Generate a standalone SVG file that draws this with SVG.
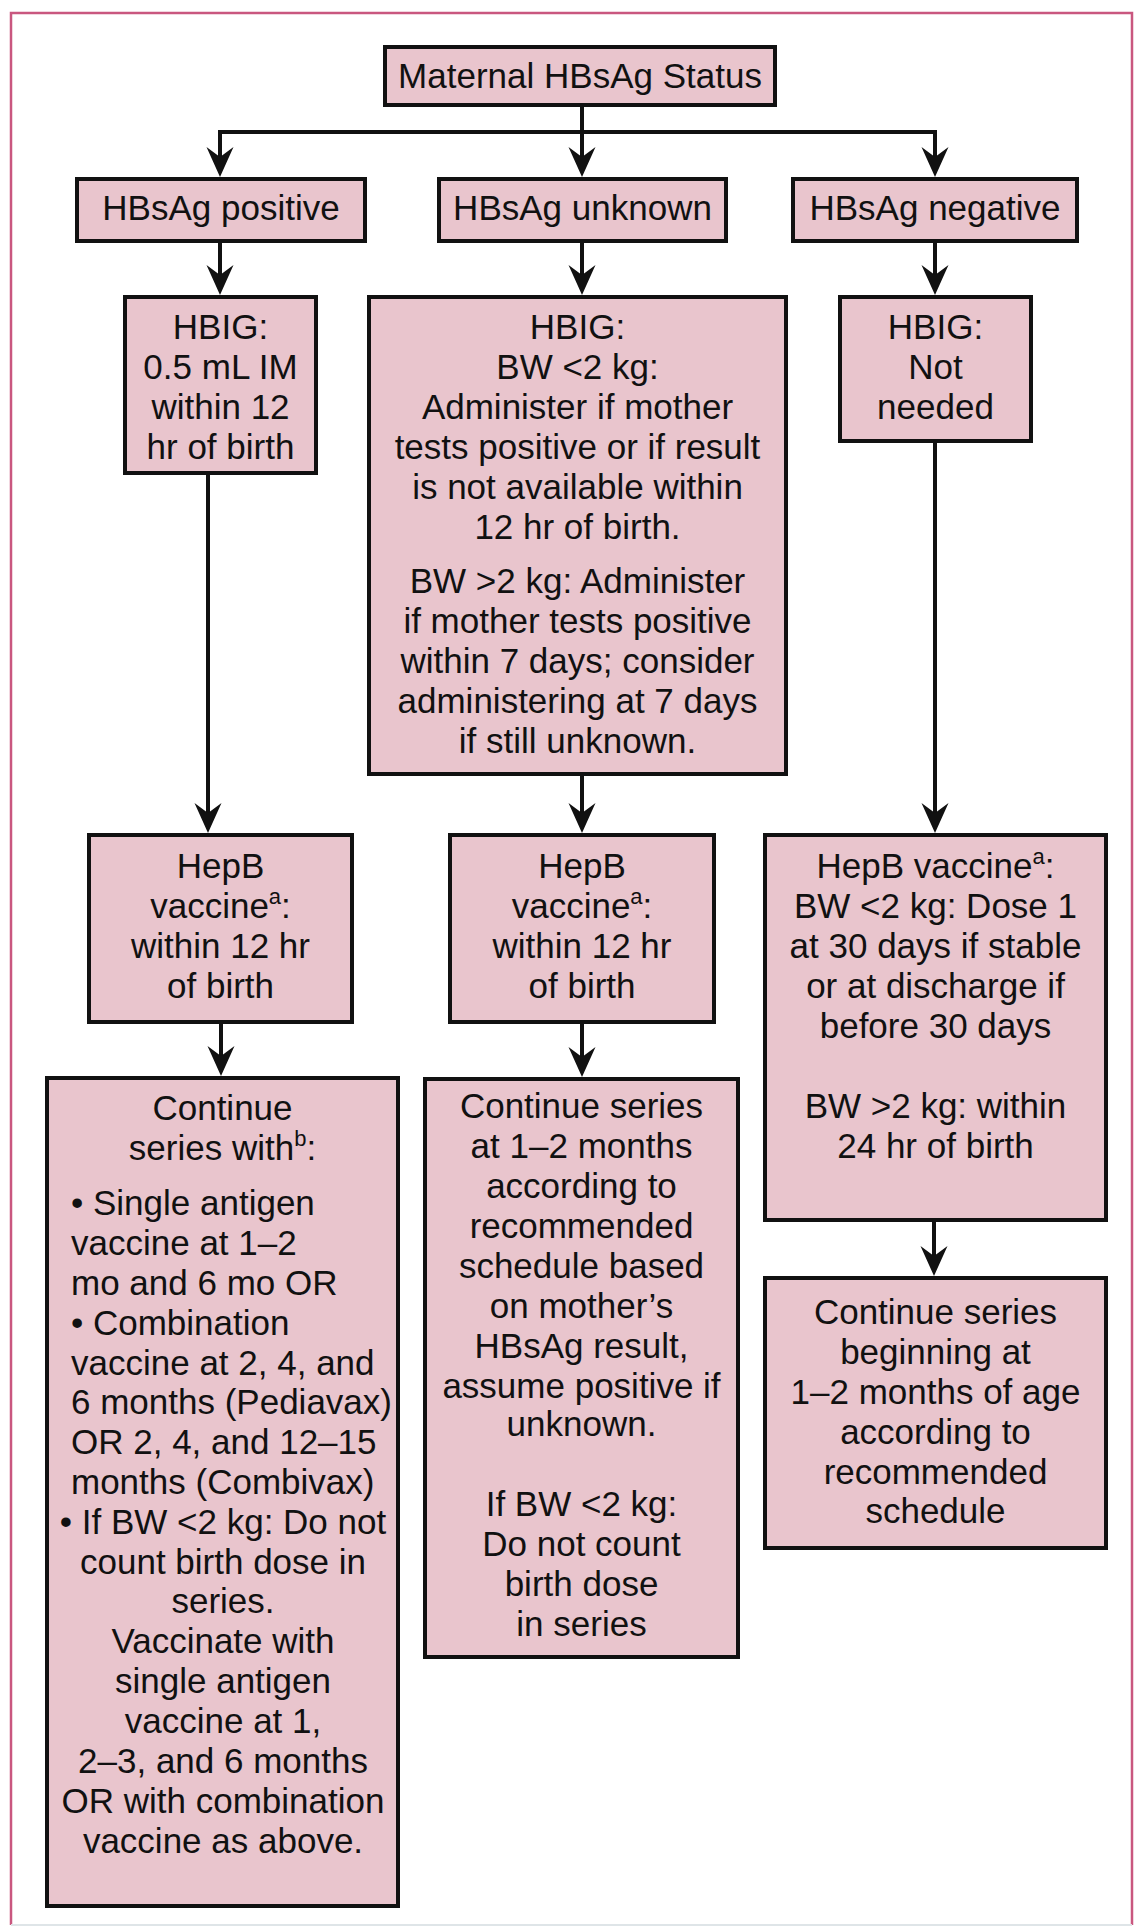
<svg xmlns="http://www.w3.org/2000/svg" width="1135" height="1931" viewBox="0 0 1135 1931">
  <defs>
    <style>
      .box { fill: #e9c5cd; stroke: #111; stroke-width: 4; }
      .t { font-family: "Liberation Sans", Arial, Helvetica, sans-serif; font-size: 35px; fill: #111; text-anchor: middle; }
      .l { text-anchor: start; }
      .sup { font-size: 22px; }
      .c { fill: none; stroke: #111; stroke-width: 4; stroke-linejoin: miter; }
    </style>
    <marker id="arrow" markerUnits="userSpaceOnUse" viewBox="-12 -15 34 30" markerWidth="34" markerHeight="30" refX="0" refY="0" orient="auto">
      <path d="M20,0 L-10,-13.5 L0,0 L-10,13.5 Z" fill="#111"/>
    </marker>
  </defs>

  <rect width="1135" height="1931" fill="#fff"/>

  <!-- outer frame -->
  <path d="M11,1925 V13 H1132 V1925" fill="none" stroke="#c9577f" stroke-width="2.5"/>
  <line x1="11" y1="1925" x2="1132" y2="1925" stroke="#dfe5e8" stroke-width="2"/>

  <!-- connectors -->
  <g id="connectors">
    <path class="c" d="M582,107 V132 H220 V157" marker-end="url(#arrow)"/>
    <path class="c" d="M582,107 V157" marker-end="url(#arrow)"/>
    <path class="c" d="M582,132 H935 V157" marker-end="url(#arrow)"/>
    <path class="c" d="M220,243 V275" marker-end="url(#arrow)"/>
    <path class="c" d="M582,243 V275" marker-end="url(#arrow)"/>
    <path class="c" d="M935,243 V275" marker-end="url(#arrow)"/>
    <path class="c" d="M208,475 V813" marker-end="url(#arrow)"/>
    <path class="c" d="M582,776 V813" marker-end="url(#arrow)"/>
    <path class="c" d="M935,443 V813" marker-end="url(#arrow)"/>
    <path class="c" d="M221,1024 V1056" marker-end="url(#arrow)"/>
    <path class="c" d="M582,1024 V1057" marker-end="url(#arrow)"/>
    <path class="c" d="M934,1222 V1256" marker-end="url(#arrow)"/>
  </g>

  <!-- top -->
  <g id="maternal-status">
    <rect class="box" x="385" y="47" width="390" height="58"/>
    <text class="t" x="580" y="88">Maternal HBsAg Status</text>
  </g>

  <!-- status row -->
  <g id="hbsag-positive">
    <rect class="box" x="77" y="179" width="288" height="62"/>
    <text class="t" x="221" y="220">HBsAg positive</text>
  </g>
  <g id="hbsag-unknown">
    <rect class="box" x="439" y="179" width="287" height="62"/>
    <text class="t" x="582.5" y="220">HBsAg unknown</text>
  </g>
  <g id="hbsag-negative">
    <rect class="box" x="793" y="179" width="284" height="62"/>
    <text class="t" x="935" y="220">HBsAg negative</text>
  </g>

  <!-- HBIG row -->
  <g id="hbig-positive">
    <rect class="box" x="125" y="297" width="191" height="176"/>
    <text class="t" x="220.5" y="339">HBIG:</text>
    <text class="t" x="220.5" y="379">0.5 mL IM</text>
    <text class="t" x="220.5" y="419">within 12</text>
    <text class="t" x="220.5" y="459">hr of birth</text>
  </g>
  <g id="hbig-unknown">
    <rect class="box" x="369" y="297" width="417" height="477"/>
    <text class="t" x="577.5" y="339">HBIG:</text>
    <text class="t" x="577.5" y="379">BW &lt;2 kg:</text>
    <text class="t" x="577.5" y="419">Administer if mother</text>
    <text class="t" x="577.5" y="459">tests positive or if result</text>
    <text class="t" x="577.5" y="499">is not available within</text>
    <text class="t" x="577.5" y="539">12 hr of birth.</text>
    <text class="t" x="577.5" y="593">BW &gt;2 kg: Administer</text>
    <text class="t" x="577.5" y="633">if mother tests positive</text>
    <text class="t" x="577.5" y="673">within 7 days; consider</text>
    <text class="t" x="577.5" y="713">administering at 7 days</text>
    <text class="t" x="577.5" y="753">if still unknown.</text>
  </g>
  <g id="hbig-negative">
    <rect class="box" x="840" y="297" width="191" height="144"/>
    <text class="t" x="935.5" y="339">HBIG:</text>
    <text class="t" x="935.5" y="379">Not</text>
    <text class="t" x="935.5" y="419">needed</text>
  </g>

  <!-- HepB vaccine row -->
  <g id="hepb-positive">
    <rect class="box" x="89" y="835" width="263" height="187"/>
    <text class="t" x="220.5" y="878">HepB</text>
    <text class="t" x="220.5" y="918">vaccine<tspan class="sup" dy="-14">a</tspan><tspan dy="14">:</tspan></text>
    <text class="t" x="220.5" y="958">within 12 hr</text>
    <text class="t" x="220.5" y="998">of birth</text>
  </g>
  <g id="hepb-unknown">
    <rect class="box" x="450" y="835" width="264" height="187"/>
    <text class="t" x="582" y="878">HepB</text>
    <text class="t" x="582" y="918">vaccine<tspan class="sup" dy="-14">a</tspan><tspan dy="14">:</tspan></text>
    <text class="t" x="582" y="958">within 12 hr</text>
    <text class="t" x="582" y="998">of birth</text>
  </g>
  <g id="hepb-negative">
    <rect class="box" x="765" y="835" width="341" height="385"/>
    <text class="t" x="935.5" y="878">HepB vaccine<tspan class="sup" dy="-14">a</tspan><tspan dy="14">:</tspan></text>
    <text class="t" x="935.5" y="918">BW &lt;2 kg: Dose 1</text>
    <text class="t" x="935.5" y="958">at 30 days if stable</text>
    <text class="t" x="935.5" y="998">or at discharge if</text>
    <text class="t" x="935.5" y="1038">before 30 days</text>
    <text class="t" x="935.5" y="1118">BW &gt;2 kg: within</text>
    <text class="t" x="935.5" y="1158">24 hr of birth</text>
  </g>

  <!-- continuation row -->
  <g id="series-positive">
    <rect class="box" x="47" y="1078" width="351" height="828"/>
    <text class="t" x="222.5" y="1120">Continue</text>
    <text class="t" x="222.5" y="1160">series with<tspan class="sup" dy="-14">b</tspan><tspan dy="14">:</tspan></text>
    <text class="t l" x="71" y="1215">• Single antigen</text>
    <text class="t l" x="71" y="1255">vaccine at 1–2</text>
    <text class="t l" x="71" y="1295">mo and 6 mo OR</text>
    <text class="t l" x="71" y="1334.5">• Combination</text>
    <text class="t l" x="71" y="1374.5">vaccine at 2, 4, and</text>
    <text class="t l" x="71" y="1414">6 months (Pediavax)</text>
    <text class="t l" x="71" y="1454">OR 2, 4, and 12–15</text>
    <text class="t l" x="71" y="1494">months (Combivax)</text>
    <text class="t" x="223" y="1533.5">• If BW &lt;2 kg: Do not</text>
    <text class="t" x="223" y="1573.5">count birth dose in</text>
    <text class="t" x="223" y="1613">series.</text>
    <text class="t" x="223" y="1653">Vaccinate with</text>
    <text class="t" x="223" y="1693">single antigen</text>
    <text class="t" x="223" y="1733">vaccine at 1,</text>
    <text class="t" x="223" y="1773">2–3, and 6 months</text>
    <text class="t" x="223" y="1812.5">OR with combination</text>
    <text class="t" x="223" y="1852.5">vaccine as above.</text>
  </g>
  <g id="series-unknown">
    <rect class="box" x="425" y="1079" width="313" height="578"/>
    <text class="t" x="581.5" y="1118">Continue series</text>
    <text class="t" x="581.5" y="1158">at 1–2 months</text>
    <text class="t" x="581.5" y="1198">according to</text>
    <text class="t" x="581.5" y="1238">recommended</text>
    <text class="t" x="581.5" y="1278">schedule based</text>
    <text class="t" x="581.5" y="1318">on mother’s</text>
    <text class="t" x="581.5" y="1358">HBsAg result,</text>
    <text class="t" x="581.5" y="1398">assume positive if</text>
    <text class="t" x="581.5" y="1436">unknown.</text>
    <text class="t" x="581.5" y="1516">If BW &lt;2 kg:</text>
    <text class="t" x="581.5" y="1556">Do not count</text>
    <text class="t" x="581.5" y="1596">birth dose</text>
    <text class="t" x="581.5" y="1636">in series</text>
  </g>
  <g id="series-negative">
    <rect class="box" x="765" y="1278" width="341" height="270"/>
    <text class="t" x="935.5" y="1324">Continue series</text>
    <text class="t" x="935.5" y="1364">beginning at</text>
    <text class="t" x="935.5" y="1404">1–2 months of age</text>
    <text class="t" x="935.5" y="1444">according to</text>
    <text class="t" x="935.5" y="1484">recommended</text>
    <text class="t" x="935.5" y="1523">schedule</text>
  </g>
</svg>
